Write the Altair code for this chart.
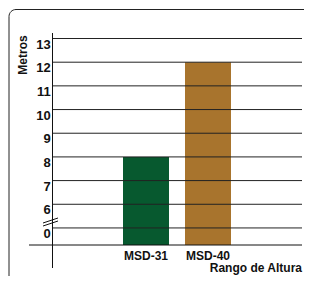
import altair as alt
import pandas as pd

# ---- data ----
categories = ["MSD-31", "MSD-40"]
heights = [8, 12]
bar_colors = ["#07592f", "#a8742d"]
tick_values = [0, 6, 7, 8, 9, 10, 11, 12, 13]
tick_labels = ["0", "6", "7", "8", "9", "10", "11", "12", "13"]
y_title = "Metros"
x_title = "Rango de Altura"

# broken axis: "0" sits a little above the baseline, then 6..13 one unit apart
BREAK_LOW = 0.72


def to_pos(v):
    return BREAK_LOW if v == 0 else BREAK_LOW + 1 + (v - 6)


bars = pd.DataFrame({
    "cat": categories,
    "value": heights,
    "pos": [to_pos(v) for v in heights],
    "base": [0.0] * len(heights),
})
ticks = pd.DataFrame({
    "value": tick_values,
    "label": tick_labels,
    "pos": [to_pos(v) for v in tick_values],
})
one = pd.DataFrame({"k": [0]})
base_row = pd.DataFrame({"pos": [0.0]})

FONT = "Liberation Sans, Arial, sans-serif"
W, H = 296, 268

yscale = alt.Scale(domain=[0, 10], range=[237, 0.2], nice=False, zero=False)
xscale = alt.Scale(domain=categories, range=[115, 223], paddingInner=0.258, paddingOuter=0)

frame = alt.Chart(one).mark_rect(
    fillOpacity=0, stroke="#222", strokeWidth=1, cornerRadius=7
).encode(x=alt.value(1), x2=alt.value(400), y=alt.value(1.5), y2=alt.value(400))

bar_layer = alt.Chart(bars).mark_bar().encode(
    x=alt.X("cat:N", scale=xscale, axis=None),
    y=alt.Y("pos:Q", scale=yscale, axis=None),
    y2="base:Q",
    color=alt.Color("cat:N", scale=alt.Scale(domain=categories, range=bar_colors), legend=None),
)

grid = alt.Chart(ticks).mark_rule(color="#222", strokeWidth=1).encode(
    y=alt.Y("pos:Q", scale=yscale, axis=None),
    x=alt.value(45),
    x2=alt.value(294),
)

xaxis = alt.Chart(base_row).mark_rule(color="#111", strokeWidth=1).encode(
    y=alt.Y("pos:Q", scale=yscale, axis=None),
    x=alt.value(21),
    x2=alt.value(294),
)

yaxis = alt.Chart(one).mark_rule(color="#111", strokeWidth=1).encode(
    x=alt.value(44.5), y=alt.value(25), y2=alt.value(260)
)

break1 = alt.Chart(one).mark_rule(color="#111", strokeWidth=1).encode(
    x=alt.value(35), x2=alt.value(50), y=alt.value(215), y2=alt.value(210)
)
break2 = alt.Chart(one).mark_rule(color="#111", strokeWidth=1).encode(
    x=alt.value(35), x2=alt.value(50), y=alt.value(218), y2=alt.value(213)
)

ylabels = alt.Chart(ticks).mark_text(
    font=FONT, fontSize=13, fontWeight="bold", align="right", baseline="top", color="#111"
).encode(
    y=alt.Y("pos:Q", scale=yscale, axis=None),
    x=alt.value(42.7),
    text="label:N",
)

xlabels = alt.Chart(bars).mark_text(
    font=FONT, fontSize=12, fontWeight="bold", align="center", baseline="top", color="#111"
).encode(
    x=alt.X("cat:N", scale=xscale, axis=None),
    y=alt.value(242.5),
    text="cat:N",
)

ytitle = alt.Chart(one).mark_text(
    font=FONT, fontSize=12, fontWeight="bold", align="center", baseline="middle",
    angle=270, color="#111", text=y_title,
).encode(x=alt.value(14.5), y=alt.value(47))

xtitle = alt.Chart(one).mark_text(
    font=FONT, fontSize=12, fontWeight="bold", align="right", baseline="bottom",
    color="#111", text=x_title,
).encode(x=alt.value(294), y=alt.value(267))

chart = alt.layer(
    frame, bar_layer, grid, xaxis, yaxis, break1, break2, ylabels, xlabels, ytitle, xtitle
).properties(
    width=W, height=H, autosize=alt.AutoSizeParams(type="none"), padding=0
).configure_view(stroke=None).resolve_scale(color="independent")

chart.save("out.html", embed_options={"renderer": "svg", "actions": False})
